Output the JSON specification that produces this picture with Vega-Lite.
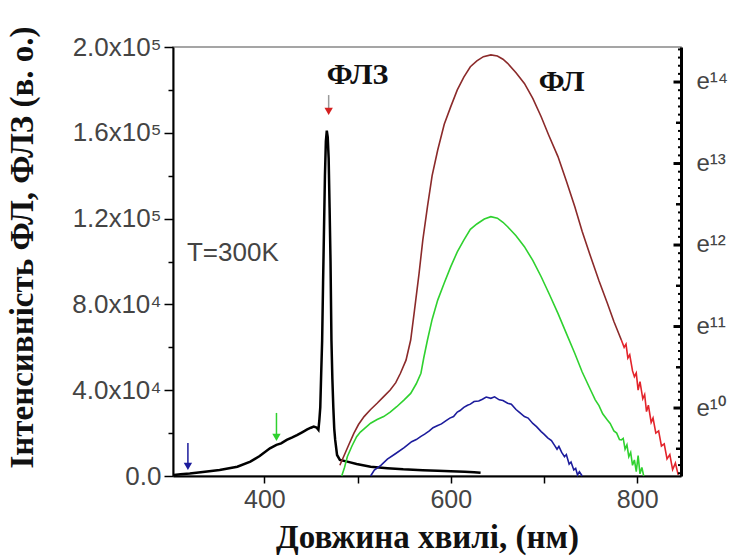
{
  "$schema": "https://vega.github.io/schema/vega-lite/v6.json",
  "width": 508,
  "height": 429,
  "autosize": {"type": "none"},
  "padding": {"left": 173, "top": 47, "right": 59, "bottom": 82},
  "background": "white",
  "config": {
    "view": {"stroke": "#888", "strokeWidth": 1.5},
    "axis": {"grid": false, "labelFont": "Liberation Sans", "labelColor": "#444", "titleFont": "Liberation Serif", "titleFontWeight": "bold", "titleColor": "#111", "domainColor": "#000", "tickColor": "#000"}
  },
  "datasets": {
    "flz": [
      {"x":303,"y":500},{"x":310,"y":800},{"x":320,"y":1200},{"x":334,"y":1900},{"x":352,"y":2800},{"x":371,"y":4300},{"x":385,"y":6700},{"x":395,"y":9300},{"x":406,"y":12900},{"x":413,"y":14500},{"x":418,"y":15200},{"x":424,"y":16800},{"x":430,"y":18000},{"x":435,"y":19100},{"x":441,"y":20500},{"x":446,"y":21700},{"x":450,"y":22500},{"x":453,"y":23000},{"x":456,"y":22600},{"x":458,"y":21500},{"x":459,"y":26000},{"x":460,"y":32000},{"x":461,"y":48000},{"x":462,"y":63000},{"x":463,"y":90000},{"x":464,"y":115000},{"x":465,"y":140000},{"x":466,"y":156000},{"x":467,"y":161000},{"x":468,"y":158000},{"x":469,"y":148000},{"x":470,"y":125000},{"x":471,"y":100000},{"x":472,"y":63000},{"x":473,"y":45000},{"x":474,"y":32000},{"x":475,"y":22000},{"x":476,"y":16800},{"x":478,"y":9800},{"x":481,"y":7500},{"x":489,"y":6700},{"x":499,"y":5600},{"x":514,"y":4300},{"x":532,"y":3600},{"x":549,"y":3100},{"x":570,"y":2700},{"x":586,"y":2500},{"x":600,"y":2200},{"x":615,"y":2000},{"x":625,"y":1800},{"x":632,"y":1500}
    ],
    "fl": [
      {"s":"ex318","x":514,"y":0},{"s":"ex318","x":518,"y":2800},{"s":"ex318","x":525,"y":5000},{"s":"ex318","x":532,"y":7900},{"s":"ex318","x":541,"y":10500},{"s":"ex318","x":550,"y":13200},{"s":"ex318","x":558,"y":16000},{"s":"ex318","x":563,"y":17000},{"s":"ex318","x":568,"y":18500},{"s":"ex318","x":572,"y":19500},{"s":"ex318","x":577,"y":21000},{"s":"ex318","x":581,"y":22500},{"s":"ex318","x":586,"y":23500},{"s":"ex318","x":590,"y":24300},{"s":"ex318","x":595,"y":25800},{"s":"ex318","x":599,"y":27000},{"s":"ex318","x":603,"y":27700},{"s":"ex318","x":607,"y":29800},{"s":"ex318","x":610,"y":30500},{"s":"ex318","x":614,"y":32000},{"s":"ex318","x":618,"y":33000},{"s":"ex318","x":621,"y":33500},{"s":"ex318","x":625,"y":34700},{"s":"ex318","x":630,"y":35000},{"s":"ex318","x":634,"y":35800},{"s":"ex318","x":638,"y":36800},{"s":"ex318","x":643,"y":36200},{"s":"ex318","x":647,"y":36900},{"s":"ex318","x":652,"y":35500},{"s":"ex318","x":656,"y":35200},{"s":"ex318","x":661,"y":33900},{"s":"ex318","x":665,"y":33500},{"s":"ex318","x":670,"y":31000},{"s":"ex318","x":674,"y":29500},{"s":"ex318","x":679,"y":27700},{"s":"ex318","x":683,"y":27000},{"s":"ex318","x":688,"y":24500},{"s":"ex318","x":692,"y":23000},{"s":"ex318","x":697,"y":20700},{"s":"ex318","x":700,"y":19500},{"s":"ex318","x":704,"y":17800},{"s":"ex318","x":708,"y":16500},{"s":"ex318","x":711,"y":14500},{"s":"ex318","x":714,"y":12500},{"s":"ex318","x":716,"y":13800},{"s":"ex318","x":719,"y":11000},{"s":"ex318","x":722,"y":9000},{"s":"ex318","x":724,"y":10000},{"s":"ex318","x":727,"y":5500},{"s":"ex318","x":729,"y":6500},{"s":"ex318","x":732,"y":2800},{"s":"ex318","x":734,"y":3500},{"s":"ex318","x":736,"y":500},{"s":"ex318","x":738,"y":2000},{"s":"ex318","x":741,"y":0},
      {"s":"ex413","x":483,"y":0},{"s":"ex413","x":486,"y":4000},{"s":"ex413","x":489,"y":9000},{"s":"ex413","x":494,"y":14000},{"s":"ex413","x":499,"y":18300},{"s":"ex413","x":503,"y":20500},{"s":"ex413","x":507,"y":22000},{"s":"ex413","x":514,"y":24600},{"s":"ex413","x":521,"y":26300},{"s":"ex413","x":528,"y":27700},{"s":"ex413","x":535,"y":29800},{"s":"ex413","x":542,"y":32300},{"s":"ex413","x":550,"y":35500},{"s":"ex413","x":557,"y":38500},{"s":"ex413","x":563,"y":43000},{"s":"ex413","x":568,"y":47900},{"s":"ex413","x":571,"y":55000},{"s":"ex413","x":575,"y":63400},{"s":"ex413","x":580,"y":73000},{"s":"ex413","x":586,"y":82000},{"s":"ex413","x":593,"y":90000},{"s":"ex413","x":600,"y":97600},{"s":"ex413","x":607,"y":104500},{"s":"ex413","x":614,"y":110000},{"s":"ex413","x":621,"y":115000},{"s":"ex413","x":628,"y":117500},{"s":"ex413","x":636,"y":119800},{"s":"ex413","x":643,"y":120900},{"s":"ex413","x":650,"y":120200},{"s":"ex413","x":656,"y":118300},{"s":"ex413","x":661,"y":116200},{"s":"ex413","x":670,"y":112000},{"s":"ex413","x":679,"y":106900},{"s":"ex413","x":688,"y":100500},{"s":"ex413","x":697,"y":92900},{"s":"ex413","x":706,"y":84500},{"s":"ex413","x":715,"y":75800},{"s":"ex413","x":724,"y":66500},{"s":"ex413","x":733,"y":57200},{"s":"ex413","x":741,"y":48500},{"s":"ex413","x":750,"y":40100},{"s":"ex413","x":755,"y":35500},{"s":"ex413","x":759,"y":32800},{"s":"ex413","x":763,"y":29000},{"s":"ex413","x":768,"y":26100},{"s":"ex413","x":771,"y":24500},{"s":"ex413","x":775,"y":21000},{"s":"ex413","x":778,"y":20000},{"s":"ex413","x":781,"y":17000},{"s":"ex413","x":783,"y":16800},{"s":"ex413","x":785,"y":17500},{"s":"ex413","x":787,"y":12500},{"s":"ex413","x":789,"y":14500},{"s":"ex413","x":791,"y":9000},{"s":"ex413","x":793,"y":11000},{"s":"ex413","x":795,"y":5000},{"s":"ex413","x":797,"y":7500},{"s":"ex413","x":799,"y":2000},{"s":"ex413","x":801,"y":9500},{"s":"ex413","x":803,"y":1000},{"s":"ex413","x":805,"y":4000},{"s":"ex413","x":807,"y":0},
      {"s":"ex469","x":481,"y":5000},{"s":"ex469","x":485,"y":9000},{"s":"ex469","x":490,"y":14000},{"s":"ex469","x":496,"y":19900},{"s":"ex469","x":501,"y":24000},{"s":"ex469","x":507,"y":27700},{"s":"ex469","x":514,"y":31000},{"s":"ex469","x":521,"y":33900},{"s":"ex469","x":528,"y":37000},{"s":"ex469","x":535,"y":40100},{"s":"ex469","x":541,"y":43500},{"s":"ex469","x":546,"y":47900},{"s":"ex469","x":552,"y":54000},{"s":"ex469","x":557,"y":63400},{"s":"ex469","x":561,"y":77000},{"s":"ex469","x":566,"y":94500},{"s":"ex469","x":570,"y":110000},{"s":"ex469","x":575,"y":125600},{"s":"ex469","x":580,"y":140000},{"s":"ex469","x":586,"y":152000},{"s":"ex469","x":593,"y":164000},{"s":"ex469","x":600,"y":172200},{"s":"ex469","x":607,"y":180000},{"s":"ex469","x":614,"y":186000},{"s":"ex469","x":621,"y":190800},{"s":"ex469","x":628,"y":193500},{"s":"ex469","x":635,"y":195500},{"s":"ex469","x":643,"y":196300},{"s":"ex469","x":650,"y":195800},{"s":"ex469","x":656,"y":194300},{"s":"ex469","x":661,"y":192400},{"s":"ex469","x":670,"y":188000},{"s":"ex469","x":679,"y":183000},{"s":"ex469","x":688,"y":176000},{"s":"ex469","x":697,"y":167500},{"s":"ex469","x":705,"y":159000},{"s":"ex469","x":715,"y":148900},{"s":"ex469","x":724,"y":137500},{"s":"ex469","x":733,"y":125600},{"s":"ex469","x":741,"y":114000},{"s":"ex469","x":750,"y":102300},{"s":"ex469","x":759,"y":91000},{"s":"ex469","x":768,"y":80500},{"s":"ex469","x":775,"y":72000},{"s":"ex469","x":783,"y":63400},
      {"s":"ex469t","x":783,"y":63400},{"s":"ex469t","x":786,"y":60000},{"s":"ex469t","x":788,"y":61500},{"s":"ex469t","x":790,"y":55000},{"s":"ex469t","x":792,"y":56500},{"s":"ex469t","x":795,"y":49000},{"s":"ex469t","x":797,"y":46300},{"s":"ex469t","x":799,"y":48000},{"s":"ex469t","x":801,"y":40000},{"s":"ex469t","x":803,"y":44000},{"s":"ex469t","x":806,"y":36000},{"s":"ex469t","x":808,"y":38000},{"s":"ex469t","x":810,"y":30000},{"s":"ex469t","x":812,"y":33000},{"s":"ex469t","x":815,"y":25000},{"s":"ex469t","x":817,"y":27000},{"s":"ex469t","x":820,"y":20000},{"s":"ex469t","x":823,"y":21000},{"s":"ex469t","x":826,"y":14000},{"s":"ex469t","x":829,"y":15000},{"s":"ex469t","x":832,"y":8000},{"s":"ex469t","x":835,"y":10000},{"s":"ex469t","x":838,"y":3000},{"s":"ex469t","x":841,"y":6000},{"s":"ex469t","x":844,"y":500}
    ],
    "arrows": [
      {"a":"blue","x":318,"ytop":15400,"ybot":4500},
      {"a":"green","x":413,"ytop":29400,"ybot":18000},
      {"a":"red","x":469,"ytop":177600,"ybot":170000}
    ],
    "boldNotes": [
      {"t":"ФЛЗ","x":500,"y":187000},
      {"t":"ФЛ","x":719,"y":183700}
    ],
    "plainNotes": [
      {"t":"T=300K","x":317,"y":104000}
    ],
    "lscale": [{"v":0},{"v":200000}],
    "rscale": [{"ln":10},{"ln":14}],
    "rtickMaj": [{"x":847,"y":31688},{"x":847,"y":69683},{"x":847,"y":107679},{"x":847,"y":145674},{"x":847,"y":183670}],
    "rtickMed": [{"x":847,"y":12690},{"x":847,"y":50686},{"x":847,"y":88681},{"x":847,"y":126677},{"x":847,"y":164672}],
    "rtickMin": [
      {"x":847,"y":1292},{"x":847,"y":5091},{"x":847,"y":8891},{"x":847,"y":16490},{"x":847,"y":20289},{"x":847,"y":24089},{"x":847,"y":27889},
      {"x":847,"y":35487},{"x":847,"y":39287},{"x":847,"y":43086},{"x":847,"y":46886},{"x":847,"y":54485},{"x":847,"y":58285},{"x":847,"y":62084},{"x":847,"y":65884},
      {"x":847,"y":73483},{"x":847,"y":77282},{"x":847,"y":81082},{"x":847,"y":84881},{"x":847,"y":92481},{"x":847,"y":96280},{"x":847,"y":100080},{"x":847,"y":103879},
      {"x":847,"y":111478},{"x":847,"y":115278},{"x":847,"y":119077},{"x":847,"y":122877},{"x":847,"y":130476},{"x":847,"y":134276},{"x":847,"y":138075},{"x":847,"y":141875},
      {"x":847,"y":149474},{"x":847,"y":153273},{"x":847,"y":157073},{"x":847,"y":160872},{"x":847,"y":168472},{"x":847,"y":172271},{"x":847,"y":176071},{"x":847,"y":179870},
      {"x":847,"y":187470},{"x":847,"y":191269},{"x":847,"y":195069},{"x":847,"y":198868}
    ]
  },
  "layer": [
    {
      "layer": [
        {
          "data": {"name": "flz"},
          "mark": {"type": "line", "color": "#000", "strokeWidth": 2.5},
          "encoding": {
            "x": {"field": "x", "type": "quantitative", "scale": {"domain": [302, 847], "nice": false, "zero": false},
              "axis": {"values": [400, 500, 600, 700, 800], "labelExpr": "datum.value % 200 == 0 ? datum.label : ''", "tickSize": 7, "tickWidth": 1.5, "domainWidth": 2, "labelFontSize": 25, "labelPadding": 4, "title": "Довжина хвилі, (нм)", "titleFontSize": 33, "titlePadding": 9}},
            "y": {"field": "y", "type": "quantitative", "scale": {"domain": [0, 200000], "nice": false, "zero": false},
              "axis": {"orient": "left", "values": [0, 40000, 80000, 120000, 160000, 200000], "labelExpr": "datum.value == 0 ? '0.0' : datum.value >= 100000 ? format(datum.value/100000, '.1f') + 'x10⁵' : format(datum.value/10000, '.1f') + 'x10⁴'", "tickSize": 9, "tickWidth": 1.5, "domainWidth": 2, "labelFontSize": 26, "labelPadding": 3, "title": "Інтенсивність ФЛ, ФЛЗ (в. о.)", "titleFontSize": 33, "titleX": -151, "titleY": 200, "titleBaseline": "middle", "titleAlign": "center"}}
          }
        },
        {
          "data": {"name": "fl"},
          "mark": {"type": "line", "strokeWidth": 1.6},
          "encoding": {
            "x": {"field": "x", "type": "quantitative", "scale": {"domain": [302, 847], "nice": false, "zero": false}},
            "y": {"field": "y", "type": "quantitative", "scale": {"domain": [0, 200000], "nice": false, "zero": false}},
            "color": {"field": "s", "type": "nominal", "scale": {"domain": ["ex318", "ex413", "ex469", "ex469t"], "range": ["#1c1c9c", "#2fd12f", "#8b2a2a", "#e3242b"]}, "legend": null}
          }
        },
        {
          "data": {"name": "arrows"},
          "mark": {"type": "rule", "strokeWidth": 1.5},
          "encoding": {
            "x": {"field": "x", "type": "quantitative", "scale": {"domain": [302, 847], "nice": false, "zero": false}},
            "y": {"field": "ytop", "type": "quantitative", "scale": {"domain": [0, 200000], "nice": false, "zero": false}},
            "y2": {"field": "ybot"},
            "color": {"field": "a", "type": "nominal", "scale": {"domain": ["blue", "green", "red"], "range": ["#1c1c9c", "#2fd12f", "#999999"]}, "legend": null}
          }
        },
        {
          "data": {"name": "arrows"},
          "mark": {"type": "point", "shape": "triangle-down", "filled": true, "size": 70, "opacity": 1},
          "encoding": {
            "x": {"field": "x", "type": "quantitative", "scale": {"domain": [302, 847], "nice": false, "zero": false}},
            "y": {"field": "ybot", "type": "quantitative", "scale": {"domain": [0, 200000], "nice": false, "zero": false}},
            "color": {"field": "a", "type": "nominal", "scale": {"domain": ["blue", "green", "red"], "range": ["#1c1c9c", "#2fd12f", "#d42020"]}, "legend": null}
          }
        },
        {
          "data": {"name": "boldNotes"},
          "mark": {"type": "text", "font": "Liberation Serif", "fontWeight": "bold", "fontSize": 30, "align": "center", "baseline": "middle", "color": "#111"},
          "encoding": {
            "x": {"field": "x", "type": "quantitative", "scale": {"domain": [302, 847], "nice": false, "zero": false}},
            "y": {"field": "y", "type": "quantitative", "scale": {"domain": [0, 200000], "nice": false, "zero": false}},
            "text": {"field": "t"}
          }
        },
        {
          "data": {"name": "plainNotes"},
          "mark": {"type": "text", "font": "Liberation Sans", "fontSize": 26, "align": "left", "baseline": "middle", "color": "#444"},
          "encoding": {
            "x": {"field": "x", "type": "quantitative", "scale": {"domain": [302, 847], "nice": false, "zero": false}},
            "y": {"field": "y", "type": "quantitative", "scale": {"domain": [0, 200000], "nice": false, "zero": false}},
            "text": {"field": "t"}
          }
        },
        {
          "data": {"name": "rtickMaj"},
          "mark": {"type": "point", "shape": "M -1 0 L 0 0", "size": 225, "strokeWidth": 3, "filled": false, "color": "#000", "opacity": 1},
          "encoding": {
            "x": {"field": "x", "type": "quantitative", "scale": {"domain": [302, 847], "nice": false, "zero": false}},
            "y": {"field": "y", "type": "quantitative", "scale": {"domain": [0, 200000], "nice": false, "zero": false}}
          }
        },
        {
          "data": {"name": "rtickMed"},
          "mark": {"type": "point", "shape": "M -1 0 L 0 0", "size": 100, "strokeWidth": 2.5, "filled": false, "color": "#000", "opacity": 1},
          "encoding": {
            "x": {"field": "x", "type": "quantitative", "scale": {"domain": [302, 847], "nice": false, "zero": false}},
            "y": {"field": "y", "type": "quantitative", "scale": {"domain": [0, 200000], "nice": false, "zero": false}}
          }
        },
        {
          "data": {"name": "rtickMin"},
          "mark": {"type": "point", "shape": "M -1 0 L 0 0", "size": 36, "strokeWidth": 2, "filled": false, "color": "#000", "opacity": 1},
          "encoding": {
            "x": {"field": "x", "type": "quantitative", "scale": {"domain": [302, 847], "nice": false, "zero": false}},
            "y": {"field": "y", "type": "quantitative", "scale": {"domain": [0, 200000], "nice": false, "zero": false}}
          }
        }
      ],
      "resolve": {"scale": {"color": "independent"}}
    },
    {
      "data": {"name": "lscale"},
      "mark": {"type": "point", "opacity": 0},
      "encoding": {
        "y": {"field": "v", "type": "quantitative", "scale": {"domain": [0, 200000], "nice": false, "zero": false},
          "axis": {"orient": "left", "values": [20000, 60000, 100000, 140000, 180000], "labels": false, "domain": false, "tickSize": 5, "tickWidth": 1.5, "title": null}}
      }
    },
    {
      "data": {"name": "rscale"},
      "mark": {"type": "point", "opacity": 0},
      "encoding": {
        "y": {"field": "ln", "type": "quantitative", "scale": {"domain": [9.166, 14.429], "nice": false, "zero": false},
          "axis": {"orient": "right", "values": [10, 11, 12, 13, 14], "labelExpr": "datum.value == 10 ? 'e¹⁰' : datum.value == 11 ? 'e¹¹' : datum.value == 12 ? 'e¹²' : datum.value == 13 ? 'e¹³' : 'e¹⁴'", "ticks": false, "domainWidth": 3, "labelFontSize": 24, "labelPadding": 15, "title": null}}
      }
    }
  ],
  "resolve": {"scale": {"y": "independent"}}
}
